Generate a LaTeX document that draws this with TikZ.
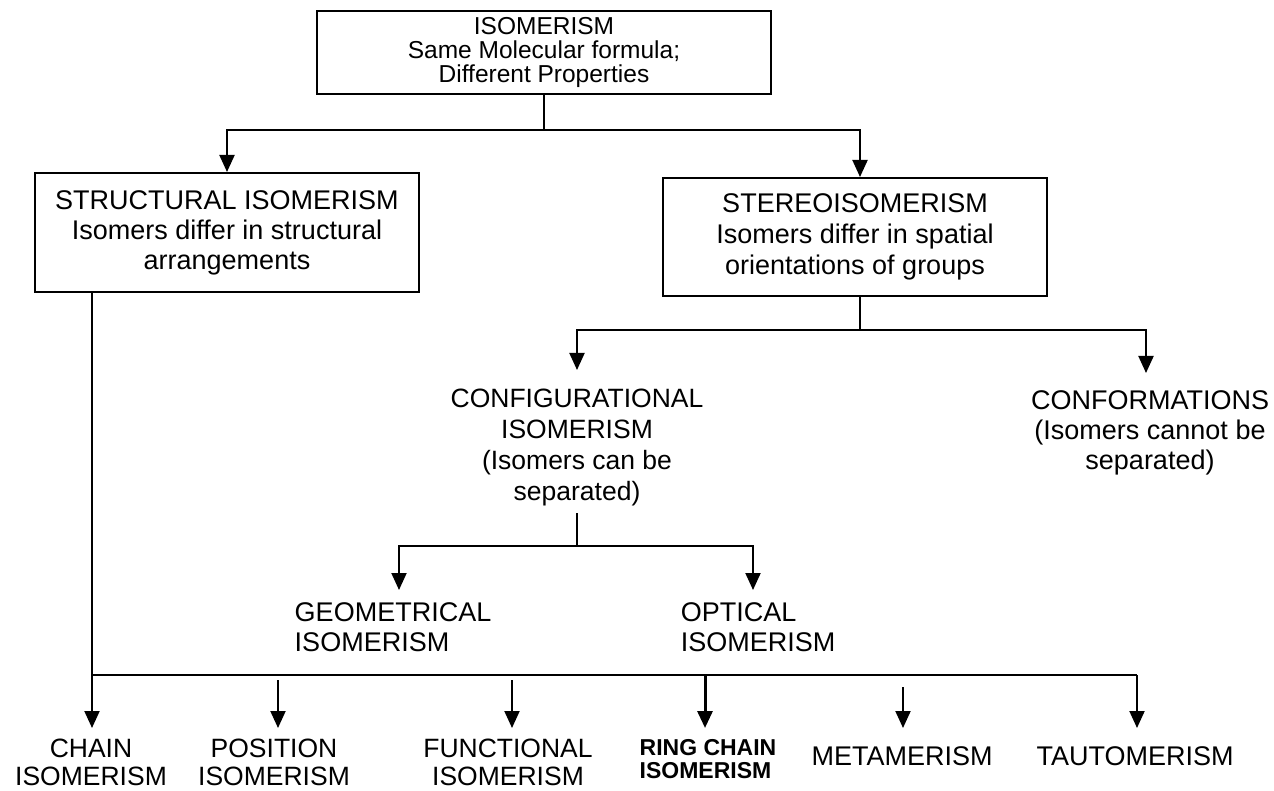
\documentclass[tikz,border=0pt]{standalone}
\usepackage{fontspec}
\setmainfont{Liberation Sans}
\usetikzlibrary{arrows.meta}
\begin{document}
\begin{tikzpicture}[x=1pt,y=-1pt,
  line width=2pt,
  box/.style={draw, line width=2pt, align=center, inner sep=0pt},
  lbl/.style={align=center, inner xsep=0pt, anchor=north},
  arr/.style={-{Triangle[width=15pt,length=17pt]}},
  big/.style={font=\fontsize{27}{30}\selectfont},
  low/.style={font=\fontsize{26.5}{27.5}\selectfont},
]
\useasboundingbox (0,0) rectangle (1274,791);

% boxes
\node[box, minimum width=454pt, minimum height=83pt, font=\fontsize{24.5}{24}\selectfont] (top) at (544,52.5)
  {ISOMERISM\\Same Molecular formula;\\Different Properties};
\node[box, big, minimum width=384pt, minimum height=119pt] (struct) at (227,232.5)
  {STRUCTURAL ISOMERISM\\Isomers differ in structural\\arrangements};
\node[box, font=\fontsize{27}{31}\selectfont, minimum width=384pt, minimum height=118pt] (stereo) at (855,237)
  {STEREOISOMERISM\\Isomers differ in spatial\\orientations of groups};

% second level
\node[lbl, font=\fontsize{26.5}{31}\selectfont, inner ysep=18pt] (config) at (577,370)
  {CONFIGURATIONAL\\ISOMERISM\\(Isomers can be\\separated)};
\node[lbl, big, inner ysep=17pt] (conf) at (1150,373)
  {CONFORMATIONS\\(Isomers cannot be\\separated)};

% third level
\node[lbl, big, align=left, inner ysep=12pt] (geo) at (393,590)
  {GEOMETRICAL\\ISOMERISM};
\node[lbl, big, align=left, inner ysep=12pt] (opt) at (758,590)
  {OPTICAL\\ISOMERISM};

% bottom row
\node[lbl, low, inner ysep=10pt] (chain) at (91,728) {CHAIN\\ISOMERISM};
\node[lbl, low, inner ysep=10pt] (pos) at (274,728) {POSITION\\ISOMERISM};
\node[lbl, low, inner ysep=10pt] (func) at (508,728) {FUNCTIONAL\\ISOMERISM};
\node[lbl, align=left, font=\fontsize{23}{23}\selectfont\bfseries, inner ysep=10pt] (ring) at (708,728) {RING CHAIN\\ISOMERISM};
\node[lbl, big, inner ysep=18pt] (meta) at (902,728) {METAMERISM};
\node[lbl, big, inner ysep=18pt] (taut) at (1135,728) {TAUTOMERISM};

% connectors: level 1
\coordinate (b1) at (544,130);
\draw (top.south) -- (b1);
\draw[arr] (b1) -| (struct.north);
\draw[arr] (b1) -| ([xshift=5pt]stereo.north);

% stereo branch
\coordinate (b2) at (860,330);
\draw (b2 |- stereo.south) -- (b2);
\draw[arr] (b2) -| (config.north);
\draw[arr] (b2) -| ([xshift=-4pt]conf.north);

% configurational branch
\coordinate (b3) at (577,546);
\draw ([yshift=12pt]config.south) -- (b3);
\draw[arr] (b3) -| ([xshift=6pt]geo.north);
\draw[arr] (b3) -| ([xshift=-5pt]opt.north);

% structural branch
\coordinate (b4) at (92,675);
\coordinate (b4r) at (1137,675);
\draw[arr] (b4 |- struct.south) -- (b4 |- chain.north);
\draw (b4) -- (b4r);
\draw[arr] (b4r) -- (b4r |- taut.north);
\coordinate (p0) at (278,680);
\draw[arr] (p0) -- (p0 |- pos.north);
\coordinate (f0) at (512,680);
\draw[arr] (f0) -- (f0 |- func.north);
\coordinate (r0) at (705,675);
\draw[arr, line width=3pt] (r0) -- (r0 |- ring.north);
\coordinate (m0) at (903,687);
\draw[arr] (m0) -- (m0 |- meta.north);
\end{tikzpicture}
\end{document}
